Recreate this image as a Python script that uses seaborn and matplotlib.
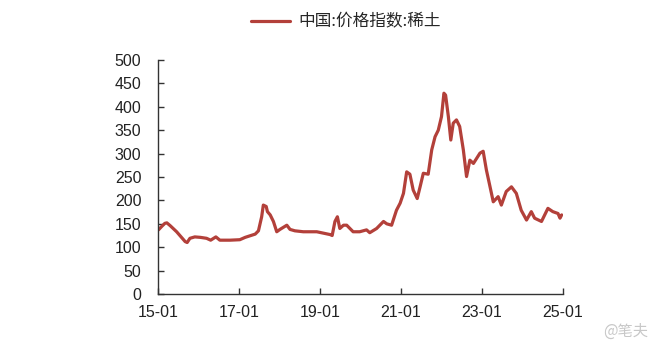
import matplotlib
matplotlib.use("Agg")
import matplotlib.pyplot as plt
import matplotlib.dates as mdates
import seaborn as sns
import pandas as pd

dates = [
    "2015-01-05", "2015-02-06", "2015-03-04", "2015-03-22", "2015-04-21", "2015-06-18",
    "2015-09-03", "2015-09-21", "2015-10-16", "2015-11-29", "2016-01-19", "2016-03-14",
    "2016-04-20", "2016-06-06", "2016-07-12", "2016-10-12", "2017-01-08", "2017-02-25",
    "2017-05-27", "2017-06-25", "2017-07-24", "2017-08-08", "2017-09-03", "2017-09-14",
    "2017-10-09", "2017-11-07", "2017-12-07", "2018-01-05", "2018-03-08", "2018-04-06",
    "2018-05-20", "2018-08-04", "2018-12-03", "2019-04-02", "2019-04-21", "2019-05-16",
    "2019-06-07", "2019-06-29", "2019-08-01", "2019-08-30", "2019-10-27", "2019-12-25",
    "2020-02-25", "2020-03-25", "2020-05-26", "2020-07-27", "2020-08-25", "2020-10-08",
    "2020-11-21", "2020-12-24", "2021-01-23", "2021-02-21", "2021-03-22", "2021-04-21",
    "2021-05-27", "2021-06-22", "2021-07-21", "2021-09-03", "2021-10-05", "2021-11-04",
    "2021-12-03", "2022-01-01", "2022-01-23", "2022-02-07", "2022-03-04", "2022-03-26",
    "2022-04-17", "2022-05-16", "2022-06-14", "2022-07-17", "2022-08-15", "2022-09-14",
    "2022-10-16", "2022-12-14", "2023-01-12", "2023-02-10", "2023-03-15", "2023-04-13",
    "2023-05-27", "2023-06-25", "2023-08-08", "2023-09-24", "2023-11-07", "2023-12-21",
    "2024-02-07", "2024-03-21", "2024-04-20", "2024-06-21", "2024-08-18", "2024-10-01",
    "2024-11-17", "2024-12-05", "2024-12-20",
]
values = [
    137, 145, 151, 152, 146, 133,
    112, 110, 119, 122, 121, 119,
    115, 122, 115, 115, 116, 121,
    128, 135, 165, 190, 187, 176,
    169, 155, 133, 138, 147, 138,
    135, 133, 133, 127, 125, 155,
    165, 140, 147, 147, 133, 133,
    137, 131, 140, 155, 150, 147,
    179, 194, 215, 261, 256, 222,
    204, 229, 258, 256, 308, 336,
    350, 379, 429, 425, 379, 329,
    365, 372, 358, 308, 251, 286,
    279, 301, 305, 265, 229, 197,
    208, 190, 219, 229, 215, 179,
    158, 176, 162, 155, 183, 176,
    172, 162, 169,
]
series_name = "中国:价格指数:稀土"
y_ticks = [0, 50, 100, 150, 200, 250, 300, 350, 400, 450, 500]
x_ticks = ["2015-01-01", "2017-01-01", "2019-01-01", "2021-01-01", "2023-01-01", "2025-01-01"]

df = pd.DataFrame({"date": pd.to_datetime(dates), "value": values, "series": series_name})

sns.set_style("white")
plt.rcParams["font.family"] = ["Liberation Sans", "Noto Sans CJK SC", "DejaVu Sans"]

fig = plt.figure(figsize=(6.55, 3.55), dpi=100)
ax = fig.add_axes([158 / 655, 1 - 294 / 355, (563 - 158) / 655, (294 - 60) / 355])

line_color = "#B3403A"
sns.lineplot(data=df, x="date", y="value", hue="series", palette=[line_color],
             linewidth=2.3, ax=ax, legend=True)

ax.set_xlim(pd.Timestamp(x_ticks[0]), pd.Timestamp(x_ticks[-1]))
ax.set_ylim(0, 500)
ax.set_yticks(y_ticks)
ax.set_xticks(pd.to_datetime(x_ticks))
ax.xaxis.set_major_formatter(mdates.DateFormatter("%y-%m"))
ax.set_xlabel("")
ax.set_ylabel("")

for side in ["top", "right"]:
    ax.spines[side].set_visible(False)
for side in ["left", "bottom"]:
    ax.spines[side].set_color("#333333")
    ax.spines[side].set_linewidth(1.0)

ax.tick_params(axis="both", direction="in", length=4, width=1, color="#333333",
               labelsize=11.5, labelcolor="#222222", left=True, bottom=True)
ax.tick_params(axis="y", pad=12)
ax.tick_params(axis="x", pad=8)

handles, labels = ax.get_legend_handles_labels()
ax.get_legend().remove()
fig.legend(handles, labels, loc="center", bbox_to_anchor=(346 / 655, 1 - 22 / 355),
           frameon=False, handlelength=2.3, handletextpad=0.5,
           prop={"family": ["Noto Sans CJK SC", "DejaVu Sans"], "size": 12})

fig.text(648 / 655, 1 - 331 / 355, "@笔夫", ha="right", va="center", color="#C8C8C8",
         fontsize=11, family=["Noto Sans CJK SC", "DejaVu Sans"])

fig.savefig("out.png", dpi=100)
